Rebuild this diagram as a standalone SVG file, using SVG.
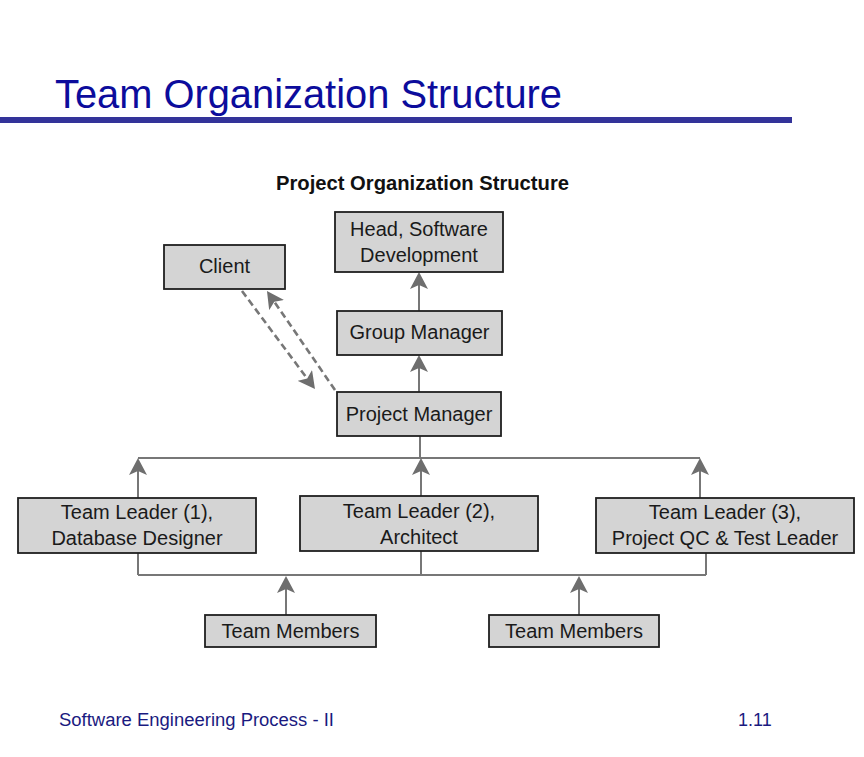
<svg xmlns="http://www.w3.org/2000/svg" width="864" height="757" viewBox="0 0 864 757">
<style>
.box{fill:#d4d4d4;stroke:#1f1f1f;stroke-width:1.8}
.lbl{font-family:"Liberation Sans",Arial,sans-serif;font-size:20px;fill:#1a1a1a;text-anchor:middle}
.ln{stroke:#777;stroke-width:2;fill:none}
.dash{stroke:#777;stroke-width:2.6;fill:none;stroke-dasharray:7 4}
</style>
<defs>
<marker id="ah" viewBox="0 -9 17 18" refX="9" refY="0" markerUnits="userSpaceOnUse" markerWidth="17" markerHeight="18" orient="auto">
<path d="M17,0 L0,-9 L4,0 L0,9 Z" fill="#6e6e6e"/>
</marker>
</defs>
<rect width="864" height="757" fill="#fff"/>
<text x="55" y="108" font-family="Liberation Sans,Arial,sans-serif" font-size="40" fill="#0c0c9c" textLength="507" lengthAdjust="spacingAndGlyphs">Team Organization Structure</text>
<rect x="0" y="117" width="792" height="6" fill="#333399"/>
<text x="276" y="190" font-family="Liberation Sans,Arial,sans-serif" font-size="19.5" font-weight="bold" fill="#111" textLength="293" lengthAdjust="spacingAndGlyphs">Project Organization Structure</text>
<g id="connectors">
<line class="ln" x1="419" y1="311" x2="419" y2="280" marker-end="url(#ah)"/>
<line class="ln" x1="419" y1="392" x2="419" y2="363" marker-end="url(#ah)"/>
<line class="ln" x1="420" y1="436" x2="420" y2="458"/>
<line class="ln" x1="138" y1="458" x2="700" y2="458"/>
<line class="ln" x1="138" y1="498" x2="138" y2="466" marker-end="url(#ah)"/>
<line class="ln" x1="421" y1="496" x2="421" y2="466" marker-end="url(#ah)"/>
<line class="ln" x1="700" y1="498" x2="700" y2="466" marker-end="url(#ah)"/>
<line class="ln" x1="138" y1="575" x2="706" y2="575"/>
<line class="ln" x1="138" y1="553" x2="138" y2="575"/>
<line class="ln" x1="421" y1="551" x2="421" y2="575"/>
<line class="ln" x1="706" y1="553" x2="706" y2="575"/>
<line class="ln" x1="286" y1="615" x2="286" y2="584" marker-end="url(#ah)"/>
<line class="ln" x1="579" y1="615" x2="579" y2="584" marker-end="url(#ah)"/>
<line class="dash" x1="242" y1="291" x2="310.2" y2="382.6" marker-end="url(#ah)"/>
<line class="dash" x1="335" y1="390" x2="271.5" y2="297.6" marker-end="url(#ah)"/>
</g>
<g id="head">
<rect class="box" x="335" y="212" width="168" height="60"/>
<text class="lbl" x="419" y="236">Head, Software</text>
<text class="lbl" x="419" y="262">Development</text>
</g>
<g id="client">
<rect class="box" x="164" y="245" width="121" height="44"/>
<text class="lbl" x="224.5" y="273">Client</text>
</g>
<g id="group-manager">
<rect class="box" x="337" y="311" width="165" height="44"/>
<text class="lbl" x="419.5" y="339">Group Manager</text>
</g>
<g id="project-manager">
<rect class="box" x="337" y="392" width="164" height="44"/>
<text class="lbl" x="419" y="421">Project Manager</text>
</g>
<g id="team-leader-1">
<rect class="box" x="18" y="498" width="238" height="55"/>
<text class="lbl" x="137" y="519">Team Leader (1),</text>
<text class="lbl" x="137" y="545">Database Designer</text>
</g>
<g id="team-leader-2">
<rect class="box" x="300" y="496" width="238" height="55"/>
<text class="lbl" x="419" y="518">Team Leader (2),</text>
<text class="lbl" x="419" y="544">Architect</text>
</g>
<g id="team-leader-3">
<rect class="box" x="596" y="498" width="258" height="55"/>
<text class="lbl" x="725" y="519">Team Leader (3),</text>
<text class="lbl" x="725" y="545">Project QC &amp; Test Leader</text>
</g>
<g id="team-members-1">
<rect class="box" x="205" y="615" width="171" height="32"/>
<text class="lbl" x="290.5" y="638">Team Members</text>
</g>
<g id="team-members-2">
<rect class="box" x="489" y="615" width="170" height="32"/>
<text class="lbl" x="574" y="638">Team Members</text>
</g>
<text x="59" y="726" font-family="Liberation Sans,Arial,sans-serif" font-size="18" fill="#1a1a80" textLength="275" lengthAdjust="spacingAndGlyphs">Software Engineering Process - II</text>
<text x="738" y="726" font-family="Liberation Sans,Arial,sans-serif" font-size="18" fill="#1a1a80">1.11</text>
</svg>
